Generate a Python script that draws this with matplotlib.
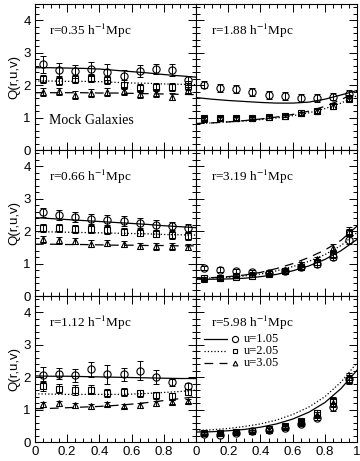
import matplotlib
matplotlib.use("Agg")
import matplotlib.pyplot as plt
from matplotlib.ticker import MultipleLocator, FixedLocator

plt.rcParams["font.family"] = ["Liberation Sans", "DejaVu Sans"]
plt.rcParams["mathtext.fontset"] = "stix"

# v values of the measured points and of the model curves
V_PTS = [0.05, 0.15, 0.25, 0.35, 0.45, 0.55, 0.65, 0.75, 0.85, 0.95]
V_LINE = [0.0, 0.1, 0.2, 0.3, 0.4, 0.5, 0.6, 0.7, 0.8, 0.9, 1.0]

R_LABELS = ["0.35", "1.88", "0.66", "3.19", "1.12", "5.98"]
U_LABELS = ["u=1.05", "u=2.05", "u=3.05"]
XTICKS_LEFT = [0, 0.2, 0.4, 0.6, 0.8]
XTICKS_RIGHT = [0, 0.2, 0.4, 0.6, 0.8, 1.0]
XLABELS_LEFT = ["0", "0.2", "0.4", "0.6", "0.8"]
XLABELS_RIGHT = ["0", "0.2", "0.4", "0.6", "0.8", "1"]

# measured Q (circles u=1.05, squares u=2.05, triangles u=3.05), per panel
Q_U1 = [
    [2.64, 2.46, 2.43, 2.49, 2.41, 2.29, 2.43, 2.51, 2.48, 2.15],
    [2.02, 1.92, 1.89, 1.79, 1.71, 1.68, 1.60, 1.60, 1.65, 1.74],
    [2.58, 2.51, 2.44, 2.37, 2.34, 2.32, 2.25, 2.19, 2.16, 2.10],
    [0.86, 0.82, 0.77, 0.74, 0.72, 0.77, 0.91, 1.00, 1.22, 1.73],
    [2.08, 2.11, 2.06, 2.24, 2.09, 2.09, 2.20, 2.01, 1.84, 1.73],
    [0.26, 0.23, 0.28, 0.33, 0.38, 0.44, 0.57, 0.75, 1.08, 1.96],
]
Q_U2 = [
    [2.20, 2.14, 2.20, 2.22, 2.17, 2.02, 1.91, 1.94, 1.95, 1.99],
    [0.99, 0.99, 0.99, 0.99, 1.03, 1.06, 1.14, 1.22, 1.36, 1.61],
    [2.11, 2.09, 2.06, 2.06, 2.03, 1.99, 1.96, 1.93, 1.88, 1.85],
    [0.55, 0.55, 0.59, 0.62, 0.67, 0.77, 0.91, 1.05, 1.30, 1.96],
    [1.73, 1.65, 1.60, 1.62, 1.52, 1.55, 1.50, 1.44, 1.41, 1.55],
    [0.28, 0.29, 0.31, 0.34, 0.39, 0.50, 0.66, 0.90, 1.28, 1.90],
]
Q_U3 = [
    [1.79, 1.81, 1.71, 1.76, 1.79, 1.82, 1.74, 1.76, 1.65, 1.86],
    [0.97, 0.98, 0.98, 0.99, 1.02, 1.05, 1.13, 1.21, 1.35, 1.58],
    [1.75, 1.72, 1.70, 1.62, 1.63, 1.60, 1.55, 1.53, 1.53, 1.52],
    [0.54, 0.57, 0.64, 0.69, 0.72, 0.82, 0.98, 1.13, 1.49, 2.01],
    [1.16, 1.19, 1.13, 1.10, 1.17, 1.11, 1.13, 1.19, 1.24, 1.26],
    [0.27, 0.27, 0.30, 0.33, 0.38, 0.47, 0.62, 0.84, 1.20, 2.02],
]

# error bars
E_U1 = [
    [0.25, 0.22, 0.20, 0.22, 0.25, 0.18, 0.18, 0.15, 0.18, 0.15],
    [0.12, 0.12, 0.12, 0.12, 0.12, 0.12, 0.12, 0.12, 0.12, 0.12],
    [0.15, 0.15, 0.15, 0.15, 0.15, 0.15, 0.15, 0.15, 0.12, 0.12],
    [0.07, 0.07, 0.07, 0.07, 0.07, 0.07, 0.08, 0.10, 0.12, 0.12],
    [0.22, 0.18, 0.20, 0.22, 0.30, 0.20, 0.30, 0.22, 0.10, 0.10],
    [0.04, 0.04, 0.04, 0.04, 0.04, 0.05, 0.06, 0.08, 0.12, 0.12],
]
E_U2 = [
    [0.13, 0.13, 0.13, 0.13, 0.13, 0.13, 0.13, 0.13, 0.13, 0.13],
    [0.05, 0.05, 0.05, 0.05, 0.05, 0.05, 0.05, 0.06, 0.08, 0.10],
    [0.12, 0.12, 0.12, 0.12, 0.12, 0.12, 0.12, 0.12, 0.12, 0.12],
    [0.04, 0.04, 0.04, 0.04, 0.05, 0.05, 0.06, 0.08, 0.12, 0.12],
    [0.15, 0.15, 0.15, 0.15, 0.12, 0.12, 0.12, 0.10, 0.10, 0.10],
    [0.04, 0.04, 0.04, 0.04, 0.04, 0.05, 0.06, 0.08, 0.12, 0.12],
]
E_U3 = [
    [0.12, 0.12, 0.12, 0.12, 0.12, 0.12, 0.12, 0.12, 0.10, 0.10],
    [0.04, 0.04, 0.04, 0.04, 0.04, 0.04, 0.05, 0.06, 0.08, 0.10],
    [0.10, 0.10, 0.10, 0.10, 0.10, 0.10, 0.10, 0.10, 0.10, 0.10],
    [0.04, 0.04, 0.04, 0.04, 0.05, 0.05, 0.06, 0.08, 0.12, 0.12],
    [0.07, 0.07, 0.07, 0.07, 0.07, 0.07, 0.07, 0.07, 0.07, 0.07],
    [0.04, 0.04, 0.04, 0.04, 0.04, 0.05, 0.06, 0.08, 0.12, 0.12],
]

# model curves sampled at V_LINE (None = not drawn)
M_U1 = [
    [2.54, 2.54, 2.53, 2.52, 2.50, 2.46, 2.42, 2.38, 2.33, 2.29, 2.25],
    [1.62, 1.57, 1.53, 1.50, 1.47, 1.45, 1.45, 1.48, 1.57, 1.70, 1.84],
    [2.42, 2.39, 2.36, 2.33, 2.30, 2.27, 2.24, 2.21, 2.17, 2.14, 2.11],
    [0.52, 0.52, 0.53, 0.55, 0.60, 0.67, 0.78, 0.93, 1.13, 1.40, 1.75],
    [2.04, 2.03, 2.03, 2.02, 2.01, 2.00, 1.99, 1.98, 1.97, 1.96, 1.96],
    [0.31, 0.32, 0.35, 0.39, 0.46, 0.56, 0.71, 0.92, 1.22, 1.65, 2.22],
]
M_U2 = [
    [2.13, 2.13, 2.12, 2.12, 2.11, 2.09, 2.07, 2.06, 2.04, 2.03, 2.02],
    [0.82, 0.84, 0.87, 0.90, 0.94, 0.99, 1.06, 1.15, 1.28, 1.45, 1.68],
    [1.98, 1.98, 1.97, 1.96, 1.95, 1.94, 1.93, 1.92, 1.90, 1.89, 1.88],
    [0.55, 0.56, 0.58, 0.62, 0.68, 0.78, 0.91, 1.07, 1.28, 1.56, 1.96],
    [1.49, 1.48, 1.47, 1.47, 1.47, 1.47, 1.48, 1.50, 1.53, 1.56, 1.60],
    [0.36, 0.38, 0.42, 0.48, 0.56, 0.68, 0.85, 1.08, 1.40, 1.85, 2.45],
]
M_U3 = [
    [1.77, 1.77, 1.77, 1.77, 1.76, 1.76, 1.75, 1.74, 1.73, 1.72, 1.71],
    [0.82, 0.84, 0.87, 0.91, 0.96, 1.02, 1.10, 1.20, 1.35, 1.55, 1.82],
    [1.60, 1.60, 1.59, 1.59, 1.58, 1.57, 1.57, 1.56, 1.56, 1.55, 1.55],
    [0.55, 0.57, 0.60, 0.65, 0.73, 0.85, 1.00, 1.19, 1.42, 1.72, 2.16],
    [1.03, 1.04, 1.06, 1.08, 1.10, 1.13, 1.17, 1.22, 1.28, 1.34, 1.40],
    None,
]

LINE_STYLES = [dict(ls="-"), dict(ls=":"), dict(ls=(0, (7, 5)))]
MARKERS = [dict(marker="o", ms=5.2), dict(marker="s", ms=3.8), dict(marker="^", ms=4.0)]

fig, axes = plt.subplots(3, 2, figsize=(3.6, 4.61), dpi=100)
fig.subplots_adjust(left=0.097, right=0.992, top=0.991, bottom=0.041,
                    wspace=0, hspace=0)

serif = ["Liberation Serif", "DejaVu Serif"]

for i, ax in enumerate(axes.flat):
    row, col = divmod(i, 2)
    series = [(Q_U1[i], E_U1[i], M_U1[i]), (Q_U2[i], E_U2[i], M_U2[i]),
              (Q_U3[i], E_U3[i], M_U3[i])]
    for (q, e, m), lst, mk in zip(series, LINE_STYLES, MARKERS):
        if m is not None:
            ax.plot(V_LINE, m, color="black", lw=0.9, **lst)
        ax.errorbar(V_PTS, q, yerr=e, fmt="none", ecolor="black",
                    elinewidth=0.7, capsize=2.2, capthick=0.7)
        ax.plot(V_PTS, q, ls="none", mfc="none", mec="black", mew=0.8, **mk)

    ax.set_xlim(0, 1)
    ax.set_ylim(0, 4.5)
    if col == 0:
        ax.set_xticks(XTICKS_LEFT + [1.0])
    else:
        ax.set_xticks(XTICKS_RIGHT)
    ax.xaxis.set_minor_locator(MultipleLocator(0.05))
    ax.yaxis.set_major_locator(FixedLocator([0, 1, 2, 3, 4]))
    ax.yaxis.set_minor_locator(MultipleLocator(0.2))
    ax.tick_params(which="both", direction="in", top=True, right=True,
                   width=0.7, labelsize=9.5, pad=3, colors="black")
    ax.tick_params(which="major", length=6)
    ax.tick_params(which="minor", length=3)
    for s in ax.spines.values():
        s.set_linewidth(0.8)

    if col == 0:
        ax.set_ylabel("Q(r,u,v)", fontsize=9.5, labelpad=2)
    else:
        ax.set_yticklabels([])
    if row == 2:
        if col == 0:
            ax.set_xticklabels(XLABELS_LEFT + [""])
        else:
            ax.set_xticklabels(XLABELS_RIGHT)
    else:
        ax.set_xticklabels([])

    ax.text(0.09, 3.67, f"r={R_LABELS[i]} h$^{{-1}}$Mpc", fontsize=9.5,
            family=serif, va="center", ha="left")

axes[0, 0].text(0.09, 0.91, "Mock Galaxies", fontsize=10, family=serif,
                va="center", ha="left")

# legend drawn inside the last panel
axl = axes[2, 1]
for k, (lst, mk, lab) in enumerate(zip(LINE_STYLES, MARKERS, U_LABELS)):
    y = [3.18, 2.81, 2.44][k]
    axl.plot([0.05, 0.19], [y, y], color="black", lw=0.9, **lst)
    axl.plot([0.245], [y], ls="none", mfc="none", mec="black", mew=0.8,
             **dict(mk, ms=mk["ms"] * 0.85))
    axl.text(0.3, y, lab, fontsize=9, family=serif, va="center", ha="left")

fig.savefig("out.png", dpi=100)
